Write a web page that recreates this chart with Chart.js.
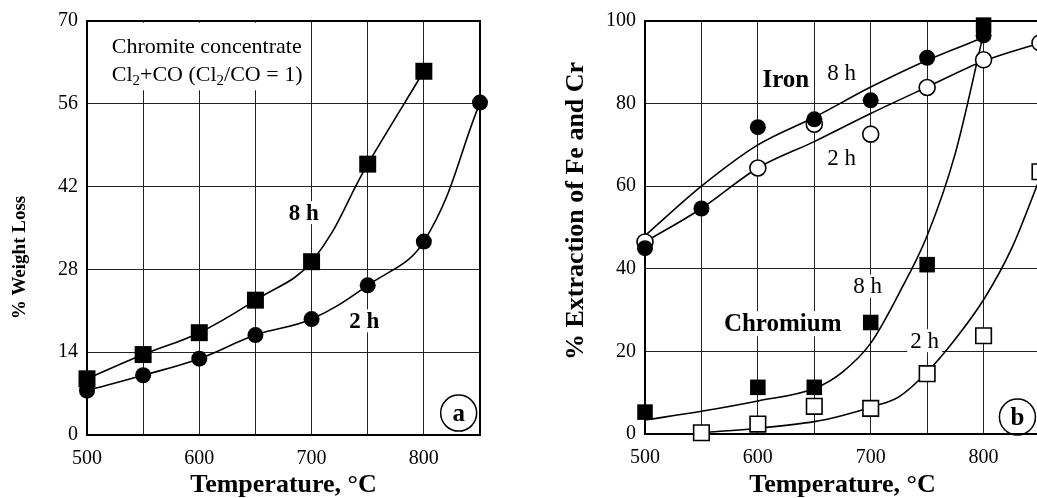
<!DOCTYPE html>
<html>
<head>
<meta charset="utf-8">
<script src="https://cdn.jsdelivr.net/npm/chart.js@4.4.1/dist/chart.umd.min.js"></script>
<style>
  html, body { margin: 0; padding: 0; background: #fff; overflow: hidden; width: 1037px; height: 498px; }
  #a { position: absolute; left: 0; top: 0; }
  #b { position: absolute; left: 520px; top: 0; }
</style>
</head>
<body>
<canvas id="a" width="500" height="498"></canvas>
<canvas id="b" width="540" height="498"></canvas>
<script>
// panel (a): % weight loss, chromite concentrate in Cl2+CO
const tempA = [500, 550, 600, 650, 700, 750, 800, 850];
const loss8h = [9.5, 13.6, 17.3, 22.8, 29.3, 45.8, 61.5, null];
const loss2h = [7.5, 10.1, 12.9, 16.9, 19.6, 25.3, 32.7, 56.2];
const ticksA = [0, 14, 28, 42, 56, 70];

// panel (b): measured points
const tempB = [500, 550, 600, 650, 700, 750, 800, 850];
const iron8h = [45, 54.6, 74.3, 76.2, 80.8, 91.1, 96.5, null];
const iron2h = [46.5, null, 64.4, 75, 72.6, 83.9, 90.6, 94.7];
const chrom8h = [5.3, null, 11.3, 11.3, 27, 41, 99, null];
const chrom2h = [null, 0.3, 2.4, 6.7, 6.2, 14.6, 23.8, 63.5];
const ticksB = [0, 20, 40, 60, 80, 100];

// panel (b): fitted curves
const ironFitT = [500, 550, 600, 650, 700, 750, 800, 850];
const iron8hFit = [48, 60, 70, 76.7, 84, 90.5, 96, null];
const iron2hFit = [46.5, 54.6, 64.4, 70.8, 77.6, 84, 90.3, 94.7];
const chromFitT = [500, 550, 600, 650, 675, 700, 725, 750, 775, 800, 825, 850];
const chrom8hFit = [3.4, 5.5, 8, 11, 15, 22, 34, 48, 68, 97, null, null];
const chrom2hFit = [null, 0.3, 1.4, 3, 4.5, 6.5, 9, 15, 23, 32.5, 45, 62];

const tempTicks = [500, 550, 600, 650, 700, 750, 800, 850];

const SERIF = '"Liberation Serif", "DejaVu Serif", "Times New Roman", serif';
Chart.defaults.font.family = SERIF;
Chart.defaults.color = '#000';

const pts = (xs, ys) => xs.map((x, i) => ({ x: x, y: ys[i] })).filter(p => p.y != null);

// frame, text labels, y title and the (a)/(b) circles
const notes = {
  id: 'notes',
  beforeDatasetsDraw(chart, args, opts) {
    const { ctx, chartArea: a, scales: { x, y } } = chart;
    ctx.save();
    ctx.textAlign = 'center';
    ctx.textBaseline = 'middle';

    if (opts.box) {
      const b = opts.box;
      const x0 = x.getPixelForValue(b.t0), x1 = x.getPixelForValue(b.t1);
      const y0 = y.getPixelForValue(b.v0), y1 = y.getPixelForValue(b.v1);
      ctx.fillStyle = '#fff';
      ctx.fillRect(x0, y0, x1 - x0, y1 - y0);
      ctx.fillStyle = '#000';
      ctx.textAlign = 'left';
      b.lines.forEach(line => {
        let px = x.getPixelForValue(line.t);
        const py = y.getPixelForValue(line.v);
        line.parts.forEach(part => {
          const sub = part.startsWith('_');
          const s = sub ? part.slice(1) : part;
          ctx.font = (sub ? 15 : 22) + 'px ' + SERIF;
          ctx.fillText(s, px, sub ? py + 6 : py);
          px += ctx.measureText(s).width;
        });
      });
      ctx.textAlign = 'center';
    }

    (opts.labels || []).forEach(l => {
      const px = x.getPixelForValue(l.t), py = y.getPixelForValue(l.v);
      ctx.font = (l.bold ? 'bold ' : '') + l.size + 'px ' + SERIF;
      const w = ctx.measureText(l.text).width;
      ctx.fillStyle = '#fff';
      ctx.fillRect(px - w / 2 - 3, py - l.size / 2, w + 6, l.size);
      ctx.fillStyle = '#000';
      ctx.fillText(l.text, px, py + 1);
    });

    if (opts.tag) {
      const px = x.getPixelForValue(opts.tag.t), py = y.getPixelForValue(opts.tag.v);
      ctx.beginPath();
      ctx.arc(px, py, 18, 0, Math.PI * 2);
      ctx.fillStyle = '#fff';
      ctx.fill();
      ctx.lineWidth = 1.5;
      ctx.strokeStyle = '#000';
      ctx.stroke();
      ctx.fillStyle = '#000';
      ctx.font = 'bold 25px ' + SERIF;
      ctx.fillText(opts.tag.text, px, py + 1);
    }

    if (opts.ytitle) {
      const t = opts.ytitle;
      ctx.translate(t.x, y.getPixelForValue(t.v));
      ctx.rotate(-Math.PI / 2);
      ctx.fillStyle = '#000';
      ctx.font = 'bold ' + t.size + 'px ' + SERIF;
      ctx.fillText(t.text, 0, 0);
      ctx.setTransform(1, 0, 0, 1, 0, 0);
    }

    ctx.lineWidth = 2;
    ctx.strokeStyle = '#000';
    ctx.strokeRect(a.left, a.top, a.width, a.height);
    ctx.restore();
  }
};

function xScale(min, max, height) {
  return {
    type: 'linear', min: min, max: max,
    afterBuildTicks: s => { s.ticks = tempTicks.map(v => ({ value: v })); },
    afterFit: s => { s.height = height; },
    grid: { color: '#222', lineWidth: 1, drawTicks: false },
    border: { display: false },
    ticks: { font: { size: 20 }, padding: 12, maxRotation: 0, autoSkip: false,
             callback: v => (v % 100 === 0 && v < 850) ? String(v) : '' },
    title: { display: true, text: 'Temperature, °C', font: { size: 26, weight: 'bold', lineHeight: 1 },
             padding: { top: 0, bottom: 0 } }
  };
}

function yScale(max, ticks, width) {
  return {
    min: 0, max: max,
    afterBuildTicks: s => { s.ticks = ticks.map(v => ({ value: v })); },
    afterFit: s => { s.width = width; },
    grid: { color: '#222', lineWidth: 1, drawTicks: false },
    border: { display: false },
    ticks: { font: { size: 20 }, padding: 9 }
  };
}

const common = {
  responsive: false,
  animation: false,
  devicePixelRatio: 1,
  events: []
};

new Chart(document.getElementById('a'), {
  type: 'line',
  data: {
    datasets: [
      { label: '8 h', data: pts(tempA, loss8h), borderColor: '#000', borderWidth: 1.6,
        pointStyle: 'rect', pointRadius: 12, pointBackgroundColor: '#000', pointBorderWidth: 0,
        tension: 0.4, clip: false },
      { label: '2 h', data: pts(tempA, loss2h), borderColor: '#000', borderWidth: 1.6,
        pointStyle: 'circle', pointRadius: 8, pointBackgroundColor: '#000', pointBorderWidth: 0,
        tension: 0.4, clip: false }
    ]
  },
  options: Object.assign({}, common, {
    layout: { padding: { top: 18, right: 20, left: 0, bottom: 0 } },
    scales: {
      x: xScale(500, 850, 63),
      y: yScale(70, ticksA, 87)
    },
    plugins: {
      legend: { display: false },
      tooltip: { enabled: false },
      notes: {
        box: { t0: 501, t1: 697, v0: 69.7, v1: 58.3,
               lines: [ { t: 522, v: 65.6, parts: ['Chromite concentrate'] },
                        { t: 522, v: 60.9, parts: ['Cl', '_2', '+CO (Cl', '_2', '/CO = 1)'] } ] },
        labels: [
          { text: '8 h', t: 693, v: 37.6, size: 23, bold: true },
          { text: '2 h', t: 747, v: 19.3, size: 23, bold: true }
        ],
        tag: { text: 'a', t: 831, v: 3.7 },
        ytitle: { text: '% Weight Loss', size: 19, x: 20, v: 30 }
      }
    }
  }),
  plugins: [notes]
});

const mark = (data, style, r, filled) => ({
  data: data, showLine: false, pointStyle: style, pointRadius: r,
  pointBackgroundColor: filled ? '#000' : '#fff', pointBorderColor: '#000',
  pointBorderWidth: filled ? 0 : 1.6, clip: false
});
const fit = data => ({
  data: data, borderColor: '#000', borderWidth: 1.6, pointRadius: 0,
  cubicInterpolationMode: 'monotone', clip: false
});

new Chart(document.getElementById('b'), {
  type: 'line',
  data: {
    datasets: [
      Object.assign({ label: 'Cr 8 h' }, mark(pts(tempB, chrom8h), 'rect', 11, true)),
      Object.assign({ label: 'Fe 8 h' }, mark(pts(tempB, iron8h), 'circle', 8, true)),
      Object.assign({ label: 'Fe 2 h' }, mark(pts(tempB, iron2h), 'circle', 8, false)),
      Object.assign({ label: 'Cr 2 h' }, mark(pts(tempB, chrom2h), 'rect', 11, false)),
      Object.assign({ label: 'Fe 8 h fit' }, fit(pts(ironFitT, iron8hFit))),
      Object.assign({ label: 'Fe 2 h fit' }, fit(pts(ironFitT, iron2hFit))),
      Object.assign({ label: 'Cr 8 h fit' }, fit(pts(chromFitT, chrom8hFit))),
      Object.assign({ label: 'Cr 2 h fit' }, fit(pts(chromFitT, chrom2hFit)))
    ]
  },
  options: Object.assign({}, common, {
    layout: { padding: { top: 18, right: 20, left: 0, bottom: 0 } },
    scales: {
      x: xScale(500, 850, 64),
      y: yScale(100, ticksB, 125)
    },
    plugins: {
      legend: { display: false },
      tooltip: { enabled: false },
      notes: {
        labels: [
          { text: 'Iron', t: 624.8, v: 85.8, size: 25, bold: true },
          { text: '8 h', t: 674.3, v: 87.3, size: 23 },
          { text: '2 h', t: 674.3, v: 66.8, size: 23 },
          { text: 'Chromium', t: 622, v: 26.7, size: 25, bold: true },
          { text: '8 h', t: 697.3, v: 35.8, size: 23 },
          { text: '2 h', t: 747.8, v: 22.6, size: 23 }
        ],
        tag: { text: 'b', t: 830, v: 4.1 },
        ytitle: { text: '% Extraction of Fe and Cr', size: 26, x: 56, v: 54 }
      }
    }
  }),
  plugins: [notes]
});
</script>
</body>
</html>
